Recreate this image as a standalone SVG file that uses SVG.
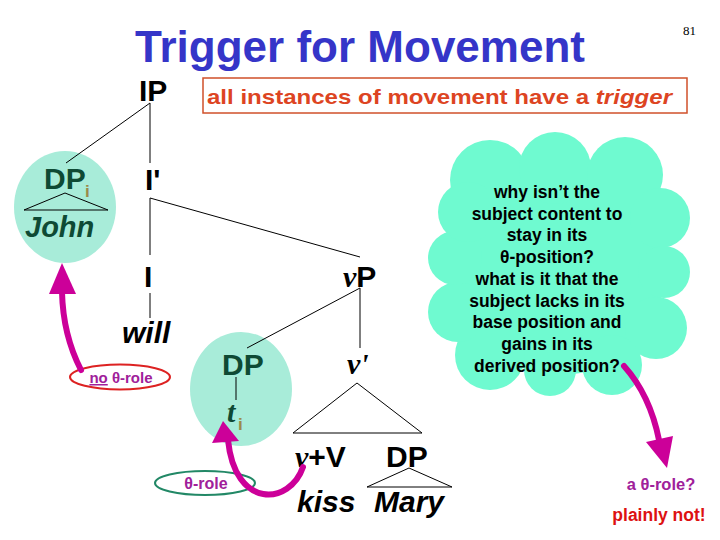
<svg xmlns="http://www.w3.org/2000/svg" width="720" height="540" viewBox="0 0 720 540">
<style>
.s{font-family:"Liberation Sans",Arial,sans-serif;font-weight:bold}
.i{font-style:italic}
.sr{font-family:"Liberation Serif","Times New Roman",serif;font-weight:bold;font-style:italic}
.lab{font-size:30px;fill:#000}
.dg{fill:#0e4a34}
.sub{fill:#9a8a4a;font-size:17px}
.ln{stroke:#000;stroke-width:1;fill:none}
.mv{stroke:#cc0099;stroke-width:6;fill:none;stroke-linecap:round}
.hd{fill:#cc0099}
.q{font-size:17.5px;fill:#000;text-anchor:middle}
.pur{fill:#a0209a}
</style>
<rect width="720" height="540" fill="#fff"/>
<text x="135" y="62" class="s" font-size="44" fill="#3535c8" textLength="450" lengthAdjust="spacingAndGlyphs">Trigger for Movement</text>
<text x="683" y="35" font-family="Liberation Serif,serif" font-size="13" fill="#000">81</text>

<g id="box">
<rect x="203" y="78" width="484" height="35" fill="#fff" stroke="#d0502a" stroke-width="1.5"/>
<text x="207" y="104" class="s" font-size="21" fill="#dd4422" textLength="465" lengthAdjust="spacingAndGlyphs">all instances of movement have a <tspan font-style="italic">trigger</tspan></text>
</g>

<g id="cloud" fill="#6ffad0">
<ellipse cx="560" cy="270" rx="105" ry="105"/>
<circle cx="490" cy="180" r="40"/>
<circle cx="555" cy="168" r="36"/>
<circle cx="625" cy="175" r="38"/>
<circle cx="660" cy="218" r="30"/>
<circle cx="664" cy="272" r="26"/>
<circle cx="656" cy="328" r="31"/>
<circle cx="612" cy="365" r="30"/>
<circle cx="550" cy="370" r="26"/>
<circle cx="490" cy="355" r="35"/>
<circle cx="458" cy="312" r="30"/>
<circle cx="455" cy="258" r="27"/>
<circle cx="468" cy="212" r="30"/>
<text class="s q"><tspan x="547" y="198">why isn’t the</tspan><tspan x="547" y="220">subject content to</tspan><tspan x="547" y="241">stay in its</tspan><tspan x="547" y="263">θ-position?</tspan><tspan x="547" y="285">what is it that the</tspan><tspan x="547" y="307">subject lacks in its</tspan><tspan x="547" y="328">base position and</tspan><tspan x="547" y="350">gains in its</tspan><tspan x="547" y="372">derived position?</tspan></text>
</g>

<g id="DPi">
<ellipse cx="65" cy="207" rx="51" ry="56" fill="#a8ecd9"/>
<text x="44" y="189" class="s lab dg">DP</text>
<text x="85" y="197" class="s sub">i</text>
<path class="ln" d="M24 210 L65 193 L108 210 Z" stroke="#0e4a34"/>
<text x="25" y="237" class="s i dg" font-size="29">John</text>
</g>

<g id="DPt">
<ellipse cx="241" cy="389" rx="51" ry="57" fill="#a8ecd9"/>
<text x="222" y="375" class="s lab dg">DP</text>
<text x="227" y="422" class="sr dg" font-size="30">t</text>
<text x="238" y="430" class="s sub">i</text>
</g>

<g id="IP"><text x="139" y="101" class="s lab">IP</text></g>
<g id="Ibar"><text x="145" y="190" class="s lab">I'</text></g>
<g id="I"><text x="144" y="287" class="s lab">I</text></g>
<g id="will"><text x="122" y="343" class="s i lab">will</text></g>
<g id="vP"><text x="343" y="287" class="lab"><tspan class="sr">v</tspan><tspan class="s">P</tspan></text></g>
<g id="vbar"><text x="347" y="374" class="sr lab">v'</text></g>
<g id="vV"><text x="295" y="467" class="lab"><tspan class="sr">v</tspan><tspan class="s">+V</tspan></text></g>
<g id="DPobj"><text x="386" y="467" class="s lab">DP</text></g>
<g id="kiss"><text x="297" y="512" class="s i lab">kiss</text></g>
<g id="Mary"><text x="374" y="512" class="s i lab">Mary</text></g>

<g id="noTheta">
<ellipse cx="120" cy="377" rx="50" ry="12.5" fill="#fff" stroke="#dd2222" stroke-width="2"/>
<text x="121" y="383" text-anchor="middle" class="s pur" font-size="15"><tspan text-decoration="underline">no</tspan> θ-role</text>
</g>
<g id="theta">
<ellipse cx="205" cy="483" rx="50" ry="12" fill="#fff" stroke="#228866" stroke-width="2"/>
<text x="206" y="489" text-anchor="middle" class="s pur" font-size="16">θ-role</text>
</g>
<g id="answers">
<text x="661" y="490" text-anchor="middle" class="s pur" font-size="16.5">a θ-role?</text>
<text x="659" y="521" text-anchor="middle" class="s" font-size="17.5" fill="#dd1111">plainly not!</text>
</g>

<g id="connectors">
<path class="ln" d="M150 103 L66 163 M150 103 L150 163 M150 198 L150 255 M150 198 L360 257 M150 293 L150 318 M360 288 L247 348 M360 288 L360 348"/>
<path class="ln" stroke="#0e4a34" d="M236 377 L236 400"/>
<path class="ln" d="M293 433 L357 383 L422 433 Z"/>
<path class="ln" d="M367 487 L409 468 L452 487 Z"/>
<path class="mv" d="M81 370 Q 63 335 62 292"/>
<path class="hd" d="M49 294 L62 263 L76 294 Z"/>
<path class="mv" d="M303 467 C 290 505, 235 510, 228 440"/>
<path class="hd" d="M212 443 L223 421 L239 441 Z"/>
<path class="mv" d="M624 366 Q 650 395 659 440"/>
<path class="hd" d="M646 442 L667 468 L673 436 Z"/>
</g>
</svg>
